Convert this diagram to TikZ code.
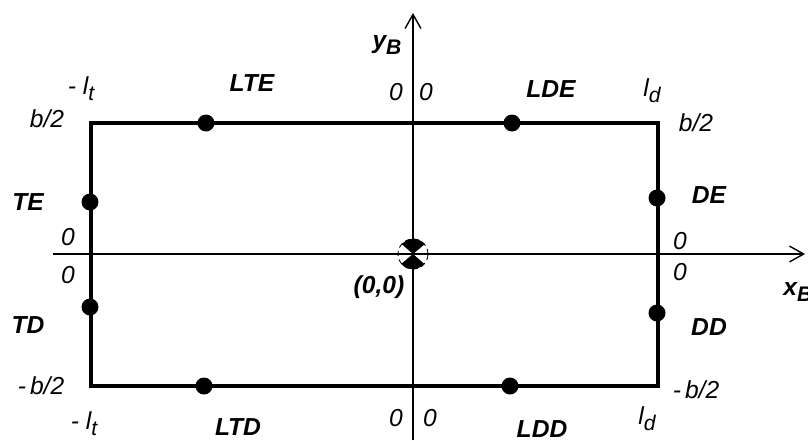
\documentclass[tikz,border=0pt]{standalone}
\usepackage{fontspec}
\setmainfont{Liberation Sans}
\usetikzlibrary{arrows.meta}
\newcommand{\lsub}[1]{\raisebox{-0.45ex}{\fontsize{12}{13}\selectfont #1}}
\tikzset{
    dot/.style={circle, fill=black, inner sep=0pt, minimum size=0.34cm},
    lbl/.style={inner sep=0pt, font=\fontsize{14}{16}\selectfont\bfseries\itshape},
    val/.style={inner sep=0pt, font=\fontsize{14}{16}\selectfont\itshape},
    axis/.style={line width=0.8pt, -{Straight Barb[length=8pt,width=9pt]}}
}
\begin{document}
\begin{tikzpicture}[x=0.02cm, y=-0.02cm]
    \useasboundingbox (0,0) rectangle (808,440);

    % 坐标轴
    \coordinate (xs) at (53,254);
    \coordinate (xe) at (805,254);
    \coordinate (ys) at (413,440);
    \coordinate (ye) at (413,13);
    \coordinate (O) at (413,254);
    \draw[axis] (xs) -- (xe);
    \draw[axis] (ys) -- (ye);

    % 矩形
    \coordinate (A) at (91,123);
    \coordinate (C) at (658,386);
    \draw[line width=2.5pt] (A) rectangle (C);

    % 测点
    \foreach \n/\x/\y in {LTE/206/123, LDE/512/123, TE/90/202, DE/657/198,
                          TD/90/307, DD/657/313, LTD/204/386, LDD/510/386} {
        \node[dot] (d\n) at (\x,\y) {};
    }

    % 重心符号
    \node[circle, minimum size=0.6cm, inner sep=0pt] (cg) at (O) {};
    \fill (cg.center) -- (cg.40) arc[start angle=40, end angle=140, radius=0.3cm] -- cycle;
    \fill (cg.center) -- (cg.220) arc[start angle=220, end angle=320, radius=0.3cm] -- cycle;
    \draw[densely dashed, line width=0.5pt] (cg.center) circle[radius=0.3cm];

    % 测点名称
    \foreach \n/\x/\y in {LTE/252/83, LDE/551/89, TE/28/202, DE/709/195,
                          TD/28/325, DD/709/327, LTD/238/427, LDD/542/429} {
        \node[lbl] (t\n) at (\x,\y) {\n};
    }
    \node[lbl] (tO) at (379,287) {(0,0)};
    \node[lbl, anchor=west] (tx) at (783,292) {x\lsub{B}};
    \node[lbl] (ty) at (387,45) {y\lsub{B}};

    % 尺寸标注
    \node[val] (ltA) at (81,89) {- l\lsub{t}};
    \node[val] (ltB) at (84,424) {- l\lsub{t}};
    \node[val] (ldA) at (652,91) {l\lsub{d}};
    \node[val] (ldB) at (647,419) {l\lsub{d}};
    \node[val] (bA) at (47,119) {b/2};
    \node[val] (bB) at (696,123) {b/2};
    \node[val] (bC) at (41,386) {-\,b/2};
    \node[val] (bD) at (696,390) {-\,b/2};

    % 零点
    \foreach \x/\y [count=\k] in {396/92, 426/92, 396/418, 430/418,
                                  68/237, 68/275, 680/241, 680/272} {
        \node[val] (z\k) at (\x,\y) {0};
    }
\end{tikzpicture}
\end{document}
